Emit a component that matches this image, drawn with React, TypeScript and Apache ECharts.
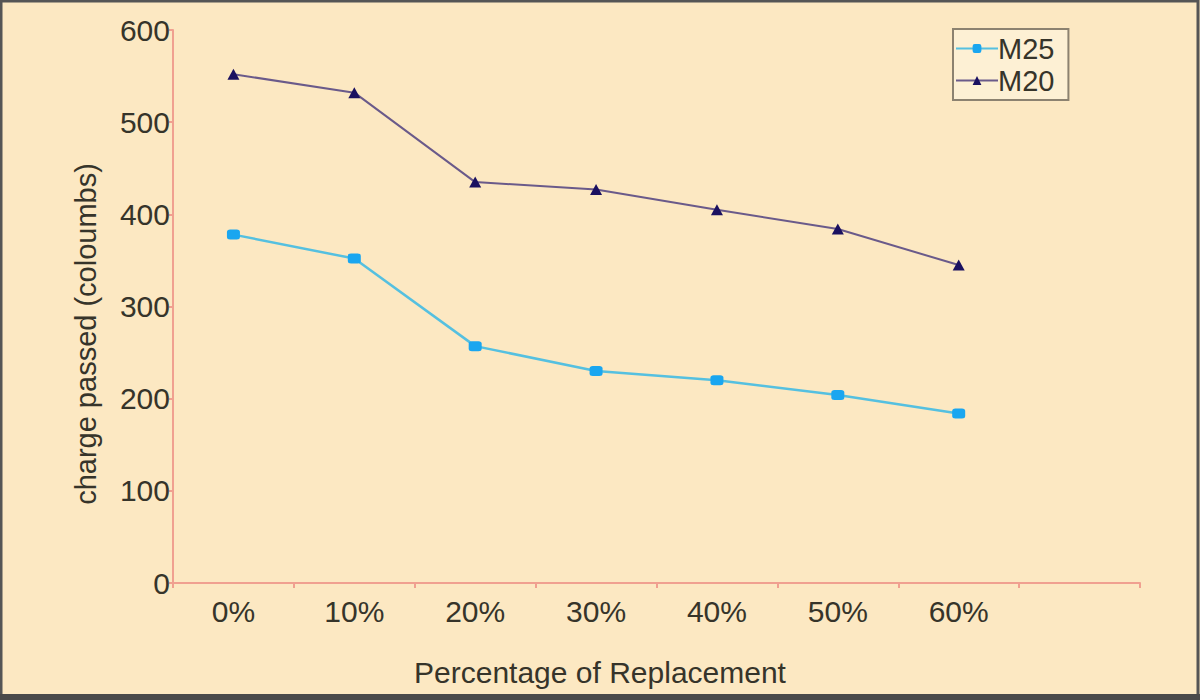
import React, { useEffect, useRef } from "react";
import * as echarts from "echarts";

const categories = ["0%", "10%", "20%", "30%", "40%", "50%", "60%", ""];
const m25Values = [378, 352, 257, 230, 220, 204, 184];
const m20Values = [552, 532, 435, 427, 405, 384, 345];
const yTicks = { min: 0, max: 600, interval: 100 };
const xTitle = "Percentage of Replacement";
const yTitle = "charge passed (coloumbs)";

const textColor = "#36342a";
const fontFamily = "Arial, 'Liberation Sans', sans-serif";

export default function App() {
  const ref = useRef<HTMLDivElement>(null);
  useEffect(() => {
    if (!ref.current) return;
    const chart = echarts.init(ref.current, null, { renderer: "svg" });
    chart.setOption({
      animation: false,
      backgroundColor: "#FCE8C2",
      grid: { left: 173, right: 60, top: 30, bottom: 117, containLabel: false },
      legend: {
        left: 953,
        top: 29,
        orient: "vertical",
        itemWidth: 42,
        itemHeight: 11,
        itemGap: 3,
        padding: [5, 14, 5, 2],
        borderColor: "#8c8270",
        borderWidth: 2,
        backgroundColor: "#FDF0D4",
        textStyle: { fontSize: 29, color: textColor, fontFamily, padding: [0, 0, 0, -5] },
        data: ["M25", "M20"],
      },
      xAxis: {
        type: "category",
        data: categories,
        boundaryGap: true,
        axisLine: { lineStyle: { color: "#F0A090", width: 2 } },
        axisTick: { show: true, length: 5, lineStyle: { color: "#F0A090", width: 2 } },
        axisLabel: { fontSize: 30, color: textColor, fontFamily, margin: 13 },
        splitLine: { show: false },
      },
      yAxis: {
        type: "value",
        min: yTicks.min,
        max: yTicks.max,
        interval: yTicks.interval,
        axisLine: { show: true, lineStyle: { color: "#F0A090", width: 2 } },
        axisTick: { show: true, length: 4, lineStyle: { color: "#F0A090", width: 2 } },
        axisLabel: { fontSize: 30, color: textColor, fontFamily, margin: 3 },
        splitLine: { show: false },
      },
      graphic: [
        {
          type: "text",
          x: 600,
          y: 672,
          style: {
            text: xTitle,
            fontSize: 30,
            fontFamily,
            fill: textColor,
            textAlign: "center",
            textVerticalAlign: "middle",
          },
        },
        {
          type: "text",
          x: 86,
          y: 334,
          rotation: Math.PI / 2,
          style: {
            text: yTitle,
            fontSize: 29,
            fontFamily,
            fill: textColor,
            textAlign: "center",
            textVerticalAlign: "middle",
          },
        },
        {
          type: "rect",
          shape: { x: 1, y: 1, width: 1197, height: 696 },
          style: { fill: "none", stroke: "#555555", lineWidth: 3 },
          silent: true,
        },
        {
          type: "rect",
          shape: { x: 0, y: 694, width: 1200, height: 6 },
          style: { fill: "#4a4a4a" },
          silent: true,
        },
      ],
      series: [
        {
          name: "M25",
          type: "line",
          data: m25Values,
          symbol: "roundRect",
          symbolSize: [13, 10],
          itemStyle: { color: "#1AA6F0" },
          lineStyle: { color: "#55C0E0", width: 2.5 },
        },
        {
          name: "M20",
          type: "line",
          data: m20Values,
          symbol: "triangle",
          symbolSize: [12, 11],
          itemStyle: { color: "#1A1060" },
          lineStyle: { color: "#6A5A8A", width: 2 },
        },
      ],
    });
    return () => chart.dispose();
  }, []);
  return (
    <div
      ref={ref}
      style={{ position: "fixed", left: 0, top: 0, width: 1200, height: 700 }}
    />
  );
}
